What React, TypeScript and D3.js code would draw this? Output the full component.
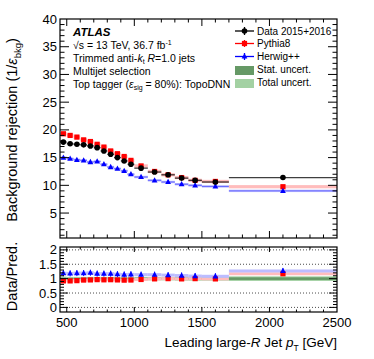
import React from 'react';
import { scaleLinear, range } from 'd3';

// bin edges in leading large-R jet pT [GeV]
const binEdges = [450, 500, 550, 600, 650, 700, 750, 800, 850, 900, 950, 1000, 1100, 1200, 1300, 1400, 1500, 1700, 2500];
const dataRej = [17.8, 17.5, 17.4, 17.3, 17.1, 16.8, 16.2, 15.6, 15.0, 14.4, 13.8, 13.1, 12.4, 11.9, 11.3, 10.9, 10.6, 11.4];
const dataErr = [0.15, 0.12, 0.12, 0.12, 0.12, 0.12, 0.12, 0.12, 0.12, 0.12, 0.12, 0.1, 0.1, 0.12, 0.12, 0.15, 0.15, 0.2];
const pythiaRej = [19.3, 19.0, 18.7, 18.2, 17.9, 17.4, 16.9, 16.2, 15.7, 15.2, 14.5, 13.5, 12.5, 11.9, 11.4, 10.9, 10.7, 9.75];
const herwigRej = [15.0, 14.8, 14.6, 14.5, 14.2, 14.3, 13.8, 13.3, 13.0, 12.6, 12.0, 11.5, 10.9, 10.6, 10.2, 10.0, 9.8, 9.0];
const statUnc = [0.03, 0.025, 0.025, 0.025, 0.025, 0.025, 0.025, 0.025, 0.025, 0.025, 0.025, 0.025, 0.025, 0.025, 0.03, 0.03, 0.03, 0.045];
const totalUnc = [0.07, 0.06, 0.06, 0.06, 0.06, 0.06, 0.06, 0.06, 0.06, 0.06, 0.06, 0.06, 0.06, 0.06, 0.07, 0.07, 0.07, 0.08];

const xTicks = [500, 1000, 1500, 2000, 2500];
const yTicks = [5, 10, 15, 20, 25, 30, 35, 40];
const rTicks = [0, 0.5, 1, 1.5, 2];
const rGrid = [0, 0.5, 1.5, 2];

const font = 'Liberation Sans, Arial, Helvetica, sans-serif';

export default function App() {
  const left = 60, right = 337
  const mainTop = 19, mainBottom = 238
  const ratTop = 247, ratBottom = 312

  const x = scaleLinear().domain([450, 2500]).range([left, right])
  const y = scaleLinear().domain([0.5, 40]).range([mainBottom, mainTop])
  const r = scaleLinear().domain([-0.16, 2.1]).range([ratBottom, ratTop])

  const bins = dataRej.map((d, i) => ({
    lo: binEdges[i],
    hi: binEdges[i + 1],
    c: (binEdges[i] + binEdges[i + 1]) / 2,
    d,
    e: dataErr[i],
    p: pythiaRej[i],
    h: herwigRej[i],
    rp: d / pythiaRej[i],
    rh: d / herwigRej[i],
    s: statUnc[i],
    t: totalUnc[i],
  }))

  const minorX = range(500, 2500, 100)
  const minorY = range(1, 40, 1)
  const minorR = range(0, 2.1, 0.1)

  const square = (cx, cy, key, fill) => <rect key={key} x={cx - 2.6} y={cy - 2.6} width={5.2} height={5.2} fill={fill} />
  const tri = (cx, cy, key) => <path key={key} d={`M${cx},${cy - 3.2}L${cx + 2.9},${cy + 2.1}L${cx - 2.9},${cy + 2.1}Z`} fill="#0000ff" />

  return (
    <svg width={374} height={359} style={{ position: 'absolute', left: 0, top: 0, fontFamily: font }}>
      <rect width={374} height={359} fill="#fff" />

      {/* ===== main panel ===== */}
      {/* MC bands */}
      {bins.map((b, i) => (
        <g key={'mc' + i}>
          <rect x={x(b.lo)} y={y(b.p) - 1.6} width={x(b.hi) - x(b.lo)} height={3.2} fill="#ffbcbc" />
          <rect x={x(b.lo)} y={y(b.h) - 1.2} width={x(b.hi) - x(b.lo)} height={2.4} fill="#bcbcff" />
          <line x1={x(b.lo)} x2={x(b.hi)} y1={y(b.h)} y2={y(b.h)} stroke="#6666ff" strokeWidth={1} />
        </g>
      ))}
      {bins.map((b, i) => square(x(b.c), y(b.p), 'ps' + i, '#ff0000'))}
      {bins.map((b, i) => tri(x(b.c), y(b.h), 'ht' + i))}
      {/* data */}
      {bins.map((b, i) => (
        <g key={'d' + i}>
          <line x1={x(b.lo)} x2={x(b.hi)} y1={y(b.d)} y2={y(b.d)} stroke="#000" strokeWidth={1.3} opacity={0.75} />
          <line x1={x(b.c)} x2={x(b.c)} y1={y(b.d - b.e)} y2={y(b.d + b.e)} stroke="#000" strokeWidth={1.3} />
          <circle cx={x(b.c)} cy={y(b.d)} r={2.8} fill="#000" />
        </g>
      ))}

      {/* main frame & ticks */}
      <rect x={left} y={mainTop} width={right - left} height={mainBottom - mainTop} fill="none" stroke="#000" strokeWidth={1.2} />
      {minorX.map(v => (
        <g key={'mx' + v}>
          <line x1={x(v)} x2={x(v)} y1={mainBottom} y2={mainBottom - (v % 500 === 0 ? 7 : 3.5)} stroke="#000" />
          <line x1={x(v)} x2={x(v)} y1={mainTop} y2={mainTop + (v % 500 === 0 ? 7 : 3.5)} stroke="#000" />
        </g>
      ))}
      {minorY.map(v => (
        <g key={'my' + v}>
          <line x1={left} x2={left + (v % 5 === 0 ? 9 : 4.5)} y1={y(v)} y2={y(v)} stroke="#000" />
          <line x1={right} x2={right - (v % 5 === 0 ? 9 : 4.5)} y1={y(v)} y2={y(v)} stroke="#000" />
        </g>
      ))}
      {yTicks.map(v => (
        <text key={'yt' + v} x={left - 3} y={y(v) + 4.5} textAnchor="end" fontSize={13}>{v}</text>
      ))}
      <text transform={`translate(17,130) rotate(-90)`} textAnchor="middle" fontSize={14.5}>
        Background rejection (1/<tspan fontStyle="italic">ε</tspan><tspan fontSize={9.5} dy={3.5}>bkg</tspan><tspan dy={-3.5}>)</tspan>
      </text>

      {/* labels */}
      <g fontSize={10.5}>
        <text x={73} y={36} fontWeight="bold" fontStyle="italic" fontSize={11.5}>ATLAS</text>
        <text x={73} y={48.5}>√s = 13 TeV, 36.7 fb<tspan fontSize={7} dy={-4}>-1</tspan></text>
        <text x={73} y={61.5}>Trimmed anti-<tspan fontStyle="italic">k</tspan><tspan fontSize={7} dy={2}>t</tspan><tspan dy={-2}> </tspan><tspan fontStyle="italic">R</tspan>=1.0 jets</text>
        <text x={73} y={74.5}>Multijet selection</text>
        <text x={73} y={87.5}>Top tagger (<tspan fontStyle="italic">ε</tspan><tspan fontSize={7} dy={2}>sig</tspan><tspan dy={-2}> = 80%): TopoDNN</tspan></text>
      </g>

      {/* legend */}
      <g fontSize={10}>
        <line x1={235} x2={254} y1={31} y2={31} stroke="#000" strokeWidth={1.3} />
        <line x1={244.5} x2={244.5} y1={27} y2={35} stroke="#000" strokeWidth={1.3} />
        <circle cx={244.5} cy={31} r={2.8} fill="#000" />
        <text x={257} y={34.5}>Data 2015+2016</text>
        <line x1={235} x2={254} y1={43.5} y2={43.5} stroke="#ff0000" strokeWidth={1.3} />
        <line x1={244.5} x2={244.5} y1={40} y2={47} stroke="#ff0000" strokeWidth={1.3} />
        {square(244.5, 43.5, 'lp', '#ff0000')}
        <text x={257} y={47}>Pythia8</text>
        <line x1={235} x2={254} y1={56.5} y2={56.5} stroke="#0000ff" strokeWidth={1.3} />
        <line x1={244.5} x2={244.5} y1={53} y2={60} stroke="#0000ff" strokeWidth={1.3} />
        {tri(244.5, 56.5, 'lh')}
        <text x={257} y={60}>Herwig++</text>
        <rect x={235} y={66} width={19} height={9} fill="#669966" />
        <text x={257} y={73}>Stat. uncert.</text>
        <rect x={235} y={79} width={19} height={9} fill="#a3d1a3" />
        <text x={257} y={86}>Total uncert.</text>
      </g>

      {/* ===== ratio panel ===== */}
      {rGrid.map(v => (
        <line key={'g' + v} x1={left} x2={right} y1={r(v)} y2={r(v)} stroke="#000" strokeWidth={1} strokeDasharray="1,2" opacity={0.7} />
      ))}
      {bins.map((b, i) => (
        <g key={'u' + i}>
          <rect x={x(b.lo)} y={r(1 + b.t)} width={x(b.hi) - x(b.lo)} height={r(1 - b.t) - r(1 + b.t)} fill="#a3d1a3" />
          <rect x={x(b.lo)} y={r(1 + b.s)} width={x(b.hi) - x(b.lo)} height={r(1 - b.s) - r(1 + b.s)} fill="#669966" />
        </g>
      ))}
      {bins.map((b, i) => (
        <g key={'rl' + i}>
          <rect x={x(b.lo)} y={r(b.rp) - 1.5} width={x(b.hi) - x(b.lo)} height={3} fill="#ffbcbc" />
          <rect x={x(b.lo)} y={r(b.rh) - 1.5} width={x(b.hi) - x(b.lo)} height={3} fill="#bcbcff" />
          <line x1={x(b.c)} x2={x(b.c)} y1={r(b.rh) - 3} y2={r(b.rh) + 3} stroke="#0000ff" />
        </g>
      ))}
      {bins.map((b, i) => square(x(b.c), r(b.rp), 'rp' + i, '#ff0000'))}
      {bins.map((b, i) => tri(x(b.c), r(b.rh), 'rh' + i))}

      <rect x={left} y={ratTop} width={right - left} height={ratBottom - ratTop} fill="none" stroke="#000" strokeWidth={1.2} />
      {minorX.map(v => (
        <g key={'rx' + v}>
          <line x1={x(v)} x2={x(v)} y1={ratBottom} y2={ratBottom - (v % 500 === 0 ? 5 : 2.5)} stroke="#000" />
          <line x1={x(v)} x2={x(v)} y1={ratTop} y2={ratTop + (v % 500 === 0 ? 5 : 2.5)} stroke="#000" />
        </g>
      ))}
      {minorR.map((v, i) => (
        <g key={'ry' + i}>
          <line x1={left} x2={left + (i % 5 === 0 ? 8 : 4)} y1={r(v)} y2={r(v)} stroke="#000" />
          <line x1={right} x2={right - (i % 5 === 0 ? 8 : 4)} y1={r(v)} y2={r(v)} stroke="#000" />
        </g>
      ))}
      {rTicks.map(v => (
        <text key={'rt' + v} x={left - 3} y={r(v) + 4.5} textAnchor="end" fontSize={13}>{v}</text>
      ))}
      <text transform={`translate(17,${(ratTop + ratBottom) / 2 - 3}) rotate(-90)`} textAnchor="middle" fontSize={14.5}>Data/Pred.</text>

      {xTicks.map(v => (
        <text key={'xt' + v} x={x(v)} y={327} textAnchor="middle" fontSize={13}>{v}</text>
      ))}
      <text x={right} y={347} textAnchor="end" fontSize={13.5}>
        Leading large-<tspan fontStyle="italic">R</tspan> Jet <tspan fontStyle="italic">p</tspan><tspan fontSize={8.5} dy={3.5}>T</tspan><tspan dy={-3.5}> [GeV]</tspan>
      </text>
    </svg>
  );
}
